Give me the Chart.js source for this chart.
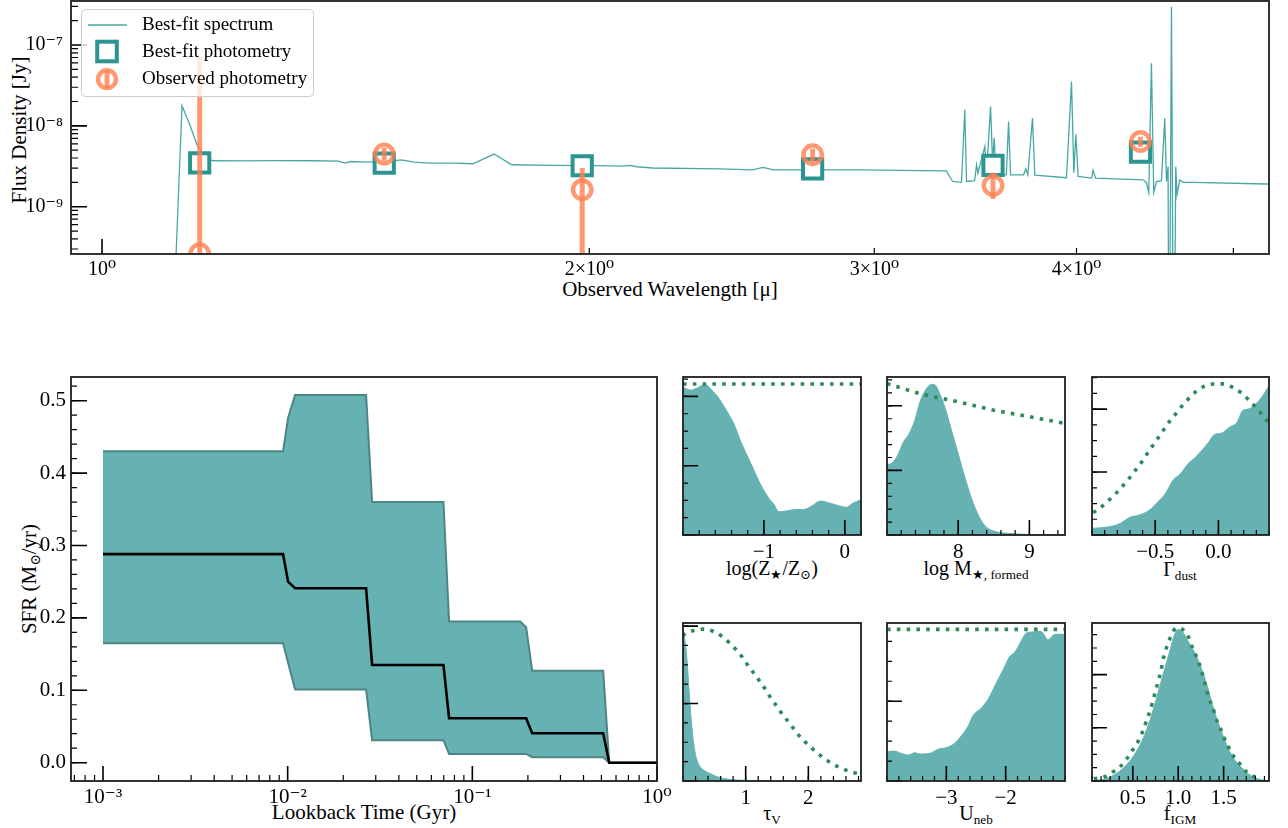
<!DOCTYPE html>
<html>
<head>
<meta charset="utf-8">
<script src="https://cdn.jsdelivr.net/npm/chart.js"></script>
<style>
  html, body { margin: 0; padding: 0; background: #fff; }
  #fig { position: relative; width: 1288px; height: 828px; overflow: hidden;
         font-family: 'Liberation Serif', 'DejaVu Serif', serif; color: #000; }
  #fig canvas { position: absolute; }
  .lbl { position: absolute; white-space: nowrap; transform: translate(-50%, -50%);
         font-size: 21px; line-height: 1; }
  .lbl.rot { transform: translate(-50%, -50%) rotate(-90deg); }
  .lbl.sm { font-size: 20px; }
  .lbl sub { font-size: 66%; vertical-align: -0.3em; line-height: 0; }
</style>
</head>
<body>
<div id="fig">
  <div class="lbl rot" style="left:19px;top:130px">Flux Density [Jy]</div>
  <div class="lbl" style="left:670px;top:289px">Observed Wavelength [μ]</div>
  <div class="lbl rot" style="left:29px;top:579px">SFR (M<sub>⊙</sub>/yr)</div>
  <div class="lbl" style="left:364px;top:812px">Lookback Time (Gyr)</div>
  <div class="lbl sm" style="left:772px;top:568px">log(Z<sub>★</sub>/Z<sub>⊙</sub>)</div>
  <div class="lbl sm" style="left:976px;top:568px">log M<sub>★, formed</sub></div>
  <div class="lbl sm" style="left:1180px;top:569px">Γ<sub>dust</sub></div>
  <div class="lbl sm" style="left:772px;top:813px">τ<sub>V</sub></div>
  <div class="lbl sm" style="left:976px;top:813px">U<sub>neb</sub></div>
  <div class="lbl sm" style="left:1180px;top:813px">f<sub>IGM</sub></div>
</div>
<script>
// ── Spectrum (μm, Jy) ──────────────────────────────────────
const specWave = [0.96, 1.108, 1.111, 1.1205, 1.133, 1.1446, 1.160, 1.171, 1.22, 1.28, 1.35, 1.40,
  1.4128, 1.425, 1.458, 1.50, 1.53, 1.56, 1.594, 1.65, 1.695, 1.7466, 1.791, 1.899, 2.02, 2.10,
  2.119, 2.14, 2.189, 2.408, 2.524, 2.560, 2.60, 2.939, 3.2937, 3.3237, 3.3536, 3.3963, 3.4123,
  3.4206, 3.4600, 3.4699, 3.4764, 3.5111, 3.5196, 3.5397, 3.5498, 3.5579, 3.5665, 3.62, 3.6315,
  3.6418, 3.71, 3.7217, 3.7323, 3.7573, 3.7696, 3.9435, 3.9717, 3.9847, 3.9961, 4.0092, 4.0863,
  4.0956, 4.1096, 4.3972, 4.4185, 4.4330, 4.4500, 4.4646, 4.4818, 4.5138, 4.5350, 4.5460, 4.5564,
  4.5629, 4.5785, 4.5935, 4.6065, 4.6151, 4.6328, 4.6546, 4.7213, 5.2409, 5.30];
const specFlux = [1e-12, 1e-12, 2.5e-10, 1.77e-8, 1.03e-8, 5.8e-9, 4.0e-9, 3.70e-9, 3.68e-9, 3.72e-9, 3.70e-9, 3.66e-9,
  3.46e-9, 3.62e-9, 3.56e-9, 3.62e-9, 3.80e-9, 3.55e-9, 3.46e-9, 3.45e-9, 3.40e-9, 4.48e-9, 3.30e-9, 3.24e-9, 3.22e-9, 3.17e-9,
  3.25e-9, 3.12e-9, 3.01e-9, 2.94e-9, 2.86e-9, 3.06e-9, 2.86e-9, 2.86e-9, 2.78e-9, 2.78e-9, 2.05e-9, 2.0e-9, 1.58e-8,
  2.05e-9, 2.1e-9, 3.30e-9, 2.61e-9, 5.55e-9, 2.61e-9, 1.73e-8, 3.46e-9, 7.11e-9, 2.55e-9, 2.48e-9, 1.13e-8,
  2.48e-9, 2.48e-9, 2.94e-9, 2.48e-9, 1.245e-8, 2.45e-9, 2.28e-9, 3.52e-8, 2.61e-9, 7.89e-9, 2.37e-9, 2.26e-9,
  2.81e-9, 2.26e-9, 2.15e-9, 2.0e-9, 1.50e-9, 5.94e-8, 1.50e-9, 2.05e-9, 2.1e-9, 1.245e-8, 2.05e-9, 3.14e-9,
  1e-12, 2.97e-7, 1e-12, 3.14e-9, 1.41e-9, 2.15e-9, 2.0e-9, 2.0e-9, 1.91e-9, 1.90e-9];

// ── Photometry ─────────────────────────────────────────────
const photWave = [1.149, 1.494, 1.980, 2.748, 3.552, 4.381];
const bestPhot = [3.49e-9, 3.46e-9, 3.21e-9, 2.94e-9, 3.24e-9, 4.73e-9];
const obsPhot  = [2.62e-10, 4.48e-9, 1.62e-9, 4.39e-9, 1.83e-9, 6.40e-9];
const obsHi    = [7.05e-8, 5.35e-9, 3.0e-9, 5.2e-9, 2.63e-9, 7.31e-9];
const obsLo    = [1e-13, 3.70e-9, 1e-13, 3.6e-9, 1.245e-9, 5.5e-9];

// ── Star formation history (Gyr, M☉/yr) ────────────────────
const sfrTime   = [0.001, 0.00944, 0.01005, 0.01097, 0.02659, 0.02866, 0.06976, 0.07484, 0.1815, 0.1956, 0.2109, 0.5112, 0.5510, 1.0];
const sfrUpper  = [0.430, 0.430, 0.476, 0.508, 0.508, 0.360, 0.360, 0.195, 0.195, 0.187, 0.127, 0.127, 0.0, 0.0];
const sfrLower  = [0.165, 0.165, 0.138, 0.101, 0.101, 0.031, 0.031, 0.012, 0.012, 0.012, 0.0075, 0.0075, 0.0, 0.0];
const sfrMedian = [0.288, 0.288, 0.250, 0.241, 0.241, 0.135, 0.135, 0.0613, 0.0613, 0.0613, 0.0406, 0.0406, 0.0, 0.0];

// ── Posteriors / priors (density, arbitrary units) ─────────
const metX     = [-2.0, -1.90, -1.81, -1.73, -1.62, -1.58, -1.485, -1.37, -1.276, -1.16, -1.067, -0.951, -0.881, -0.812, -0.742, -0.603, -0.510, -0.394, -0.301, -0.185, -0.069, 0.024, 0.093, 0.2];
const metPost  = [2.13, 2.09, 2.13, 2.17, 2.06, 2.01, 1.84, 1.60, 1.32, 1.03, 0.79, 0.55, 0.45, 0.335, 0.344, 0.368, 0.368, 0.43, 0.49, 0.46, 0.42, 0.40, 0.455, 0.51];
const metPriorX = [-2.0, 0.2];
const metPrior  = [2.18, 2.18];

const massX     = [7.0, 7.069, 7.149, 7.229, 7.309, 7.388, 7.468, 7.548, 7.628, 7.681, 7.734, 7.814, 7.894, 8.0, 8.106, 8.213, 8.319, 8.399, 8.532, 8.691, 8.957, 9.17, 9.5];
const massPost  = [1.092, 1.113, 1.231, 1.436, 1.564, 1.769, 2.077, 2.256, 2.333, 2.318, 2.205, 1.974, 1.667, 1.256, 0.846, 0.487, 0.231, 0.118, 0.051, 0.026, 0.01, 0, 0];
const massPriorX = [7.0, 7.5, 8.0, 8.5, 9.0, 9.5];
const massPrior  = [2.344, 2.179, 2.062, 1.933, 1.831, 1.728];

const dustX     = [-1.0, -0.926, -0.836, -0.777, -0.702, -0.628, -0.553, -0.479, -0.419, -0.360, -0.300, -0.240, -0.181, -0.121, -0.077, -0.032, 0.028, 0.087, 0.147, 0.191, 0.236, 0.281, 0.340, 0.4];
const dustPost  = [0.105, 0.116, 0.142, 0.184, 0.279, 0.316, 0.384, 0.526, 0.658, 0.868, 0.974, 1.132, 1.237, 1.368, 1.474, 1.595, 1.621, 1.711, 1.789, 1.974, 2.0, 2.053, 2.184, 2.368];
const dustPriorX = [-0.991, -0.926, -0.866, -0.812, -0.759, -0.708, -0.657, -0.613, -0.568, -0.523, -0.479, -0.434, -0.389, -0.339, -0.291, -0.240, -0.181, -0.112, -0.032, 0.043, 0.117, 0.183, 0.242, 0.296, 0.349, 0.4];
const dustPrior  = [0.353, 0.447, 0.553, 0.658, 0.774, 0.895, 1.026, 1.142, 1.279, 1.411, 1.537, 1.668, 1.8, 1.921, 2.042, 2.158, 2.274, 2.363, 2.4, 2.4, 2.342, 2.253, 2.142, 2.026, 1.905, 1.774];

const tauX      = [0, 0.03, 0.06, 0.09, 0.12, 0.16, 0.2, 0.26, 0.33, 0.42, 0.55, 0.75, 1.0, 1.5, 2.84];
const tauPost   = [1.92, 1.82, 1.6, 1.25, 0.9, 0.55, 0.34, 0.2, 0.14, 0.1, 0.055, 0.02, 0.008, 0, 0];
const tauPriorX = [0, 0.018, 0.174, 0.324, 0.485, 0.623, 0.743, 0.857, 0.953, 1.043, 1.144, 1.234, 1.324, 1.408, 1.504, 1.594, 1.696, 1.791, 1.893, 2.013, 2.133, 2.253, 2.391, 2.535, 2.678, 2.84];
const tauPrior  = [1.87, 1.893, 1.944, 1.961, 1.931, 1.867, 1.781, 1.687, 1.592, 1.485, 1.378, 1.275, 1.172, 1.06, 0.957, 0.850, 0.751, 0.648, 0.549, 0.455, 0.369, 0.292, 0.219, 0.163, 0.120, 0.085];

const nebX      = [-4, -3.885, -3.757, -3.643, -3.534, -3.438, -3.279, -3.151, -2.991, -2.864, -2.736, -2.640, -2.545, -2.417, -2.289, -2.162, -2.034, -1.938, -1.843, -1.747, -1.651, -1.555, -1.409, -1.281, -1.172, -1.0];
const nebPost   = [0.367, 0.375, 0.346, 0.325, 0.354, 0.338, 0.346, 0.396, 0.421, 0.471, 0.575, 0.679, 0.825, 0.908, 1.033, 1.221, 1.408, 1.554, 1.617, 1.742, 1.854, 1.867, 1.875, 1.771, 1.838, 1.838];
const nebPriorX = [-4, -1];
const nebPrior  = [1.90, 1.90];

const igmX      = [0.05, 0.2, 0.3, 0.4, 0.5, 0.6, 0.7, 0.8, 0.9, 0.96, 1.0, 1.05, 1.1, 1.2, 1.3, 1.4, 1.5, 1.6, 1.7, 1.8, 1.9, 2.0];
const igmPost   = [0, 0.04, 0.12, 0.25, 0.45, 0.75, 1.2, 1.8, 2.4, 2.75, 2.85, 2.8, 2.65, 2.35, 1.9, 1.3, 0.82, 0.45, 0.25, 0.1, 0.03, 0];
const igmPriorX = [0.07, 0.19, 0.27, 0.36, 0.43, 0.5, 0.56, 0.61, 0.65, 0.69, 0.72, 0.75, 0.78, 0.81, 0.83, 0.86, 0.9, 0.94, 0.98, 1.07, 1.12, 1.16, 1.21, 1.25, 1.28, 1.31, 1.34, 1.38, 1.41, 1.46, 1.5, 1.55, 1.6, 1.67, 1.73, 1.8, 1.9];
const igmPrior  = [0.04, 0.08, 0.16, 0.27, 0.41, 0.59, 0.75, 0.94, 1.13, 1.32, 1.50, 1.69, 1.88, 2.07, 2.26, 2.45, 2.64, 2.80, 2.88, 2.82, 2.68, 2.49, 2.30, 2.11, 1.92, 1.73, 1.54, 1.39, 1.20, 1.01, 0.83, 0.65, 0.49, 0.34, 0.21, 0.11, 0.05];

// ── Tick labels ────────────────────────────────────────────
const specXTicks  = [1, 2, 3, 4];
const specXLabels = ['10⁰', '2×10⁰', '3×10⁰', '4×10⁰'];
const specYTicks  = [1e-9, 1e-8, 1e-7];
const specYLabels = ['10⁻⁹', '10⁻⁸', '10⁻⁷'];
const sfrXTicks   = [1e-3, 1e-2, 1e-1, 1];
const sfrXLabels  = ['10⁻³', '10⁻²', '10⁻¹', '10⁰'];
const sfrYTicks   = [0, 0.1, 0.2, 0.3, 0.4, 0.5];
const sfrYLabels  = ['0.0', '0.1', '0.2', '0.3', '0.4', '0.5'];

// ── Style ──────────────────────────────────────────────────
const TEAL  = '#2b9691';
const SPEC  = '#48a7a4';
const FILL  = '#66b2b2';
const EDGE  = '#4e8584';
const CORAL = 'rgba(255,127,80,0.8)';
const PRIOR = '#2e8b57';
const FONT  = "'Liberation Serif', 'DejaVu Serif', serif";

Chart.defaults.font.family = FONT;
Chart.defaults.color = '#000';

// ── Helpers ────────────────────────────────────────────────
const $   = id => document.getElementById(id);
const pts = (xs, ys) => xs.map((x, i) => ({ x, y: ys[i] }));
const steps = (a, b, s) => {
    const out = [];
    for (let v = a; v <= b + 1e-9; v += s) out.push(+v.toFixed(6));
    return out;
};
const logMinor = (lo, hi) => {
    const out = [];
    for (let k = Math.floor(Math.log10(lo)); k <= Math.ceil(Math.log10(hi)); k++)
        for (let m = 2; m <= 9; m++) {
            const v = m * Math.pow(10, k);
            if (v >= lo && v <= hi) out.push(v);
        }
    return out;
};

function axis(type, min, max, values, labels, size, pad) {
    return {
        type, min, max,
        grid:   { display: false, drawTicks: false },
        border: { display: false },
        afterBuildTicks: s => { s.ticks = values.map(v => ({ value: v })); },
        ticks: {
            display: labels.length > 0, autoSkip: false, maxRotation: 0, minRotation: 0,
            padding: pad, font: { size }, color: '#000',
            callback: (v, i) => labels[i] ?? '',
        },
    };
}

// ── Inward ticks + frame ───────────────────────────────────
const frameTicks = {
    id: 'frameTicks',
    afterDraw(chart, _a, o) {
        const { ctx, chartArea: a, scales } = chart;
        if (!o || !o.xMajor) return;
        const xs = scales.x, ys = scales.y;
        ctx.save();
        ctx.strokeStyle = '#000';
        const tickX = (vals, len, lw) => {
            ctx.lineWidth = lw; ctx.beginPath();
            vals.forEach(v => {
                const p = xs.getPixelForValue(v);
                if (p < a.left - 0.5 || p > a.right + 0.5) return;
                ctx.moveTo(p, a.bottom); ctx.lineTo(p, a.bottom - len);
            });
            ctx.stroke();
        };
        const tickY = (vals, len, lw) => {
            ctx.lineWidth = lw; ctx.beginPath();
            vals.forEach(v => {
                const p = ys.getPixelForValue(v);
                if (p < a.top - 0.5 || p > a.bottom + 0.5) return;
                ctx.moveTo(a.left, p); ctx.lineTo(a.left + len, p);
            });
            ctx.stroke();
        };
        tickX(o.xMinor, o.xLen[1], 1.2);
        tickX(o.xMajor, o.xLen[0], 1.6);
        tickY(o.yMinor, o.yLen[1], 1.2);
        tickY(o.yMajor, o.yLen[0], 1.6);
        ctx.lineWidth = 1.8;
        ctx.strokeStyle = '#1e1e1e';
        ctx.strokeRect(a.left, a.top, a.right - a.left, a.bottom - a.top);
        ctx.restore();
    },
};
Chart.register(frameTicks);

// ── Legend (spectrum panel), page coords relative to frame top y=1 ──
const legendBox = {
    id: 'legendBox',
    afterDraw(chart) {
        const ctx = chart.ctx;
        ctx.save();
        ctx.translate(0, chart.chartArea.top - 1);
        ctx.beginPath();
        ctx.roundRect(81.5, 9.5, 232, 87, 4);
        ctx.fillStyle = 'rgba(255,255,255,0.8)';
        ctx.fill();
        ctx.strokeStyle = '#cccccc';
        ctx.lineWidth = 1;
        ctx.stroke();

        ctx.strokeStyle = SPEC; ctx.lineWidth = 1.3;
        ctx.beginPath(); ctx.moveTo(88, 25); ctx.lineTo(127, 25); ctx.stroke();

        ctx.strokeStyle = TEAL; ctx.lineWidth = 4;
        ctx.strokeRect(97.2, 41.7, 19.6, 19.6);

        ctx.strokeStyle = CORAL; ctx.lineWidth = 5;
        ctx.beginPath(); ctx.moveTo(107, 70); ctx.lineTo(107, 88.5); ctx.stroke();
        ctx.lineWidth = 4.5;
        ctx.beginPath(); ctx.arc(107, 79.2, 8.9, 0, Math.PI * 2); ctx.stroke();

        ctx.fillStyle = '#000';
        ctx.font = `19px ${FONT}`;
        ctx.textBaseline = 'middle';
        ctx.fillText('Best-fit spectrum', 142, 25);
        ctx.fillText('Best-fit photometry', 142, 52);
        ctx.fillText('Observed photometry', 142, 79);
        ctx.restore();
    },
};

// ── Panel factory: frame = exact plot box in page pixels ───
function panel(frame, m, config) {
    const cv = document.createElement('canvas');
    const w = frame.w + m.l + m.r, h = frame.h + m.t + m.b;
    cv.width = w; cv.height = h;
    Object.assign(cv.style, { left: (frame.x - m.l) + 'px', top: (frame.y - m.t) + 'px', width: w + 'px', height: h + 'px' });
    $('fig').appendChild(cv);
    const sx = config.options.scales.x, sy = config.options.scales.y;
    sx.afterFit = s => { s.height = m.b; s.paddingLeft = 0; s.paddingRight = 0; };
    sy.afterFit = s => { s.width = m.l; s.paddingTop = 0; s.paddingBottom = 0; };
    Object.assign(config.options, {
        responsive: false, devicePixelRatio: 1, animation: false,
        layout: { padding: { left: 0, top: m.t, right: m.r, bottom: 0 } },
    });
    config.options.plugins = Object.assign({ legend: { display: false }, tooltip: { enabled: false } }, config.options.plugins);
    return new Chart(cv, config);
}

// ── Spectrum + photometry ──────────────────────────────────
const errPts = [];
photWave.forEach((w, i) => errPts.push({ x: w, y: obsLo[i] }, { x: w, y: obsHi[i] }, { x: w, y: null }));

panel({ x: 71, y: 1, w: 1198, h: 253 }, { l: 71, t: 31, r: 19, b: 36 }, {
    type: 'line',
    data: { datasets: [
        { data: pts(specWave, specFlux), borderColor: SPEC, borderWidth: 1.3, pointRadius: 0, clip: 0, order: 4 },
        { data: pts(photWave, bestPhot), showLine: false, pointStyle: 'rect', pointRadius: 13.6, pointBorderWidth: 4,
          pointBorderColor: TEAL, pointBackgroundColor: '#fff', clip: 0, order: 3 },
        { data: errPts, borderColor: CORAL, borderWidth: 5, pointRadius: 0, spanGaps: false, clip: 0, order: 2 },
        { data: pts(photWave, obsPhot), showLine: false, pointStyle: 'circle', pointRadius: 9.2, pointBorderWidth: 4.5,
          pointBorderColor: CORAL, pointBackgroundColor: 'rgba(0,0,0,0)', clip: 0, order: 1 },
    ] },
    options: {
        scales: {
            x: axis('logarithmic', 0.9568, 5.26, specXTicks, specXLabels, 20, 4),
            y: axis('logarithmic', 2.60e-10, 3.50e-7, specYTicks, specYLabels, 20, 8),
        },
        plugins: { frameTicks: {
            xMajor: [1], xMinor: [2, 3, 4, 5], xLen: [15, 6],
            yMajor: specYTicks, yMinor: logMinor(2.6e-10, 3.5e-7), yLen: [16, 7],
        } },
    },
    plugins: [legendBox],
});

// ── SFH ────────────────────────────────────────────────────
panel({ x: 71, y: 377, w: 586, h: 404 }, { l: 71, t: 20, r: 25, b: 35 }, {
    type: 'line',
    data: { datasets: [
        { data: pts(sfrTime, sfrUpper), borderColor: EDGE, borderWidth: 2, backgroundColor: FILL, fill: '+1', pointRadius: 0, order: 3 },
        { data: pts(sfrTime, sfrLower), borderColor: EDGE, borderWidth: 2, fill: false, pointRadius: 0, order: 2 },
        { data: pts(sfrTime, sfrMedian), borderColor: '#000', borderWidth: 2.6, fill: false, pointRadius: 0, order: 1 },
    ] },
    options: {
        scales: {
            x: axis('logarithmic', 6.71e-4, 1, sfrXTicks, sfrXLabels, 21, 4),
            y: axis('linear', -0.0253, 0.5327, sfrYTicks, sfrYLabels, 21, 5),
        },
        plugins: { frameTicks: {
            xMajor: sfrXTicks, xMinor: logMinor(6.71e-4, 1), xLen: [15, 6],
            yMajor: sfrYTicks, yMinor: steps(0, 0.52, 0.02), yLen: [16, 6],
        } },
    },
});

// ── Posterior panels ───────────────────────────────────────
function posterior(frame, xr, xMajor, xLabels, xStep, yMax, yStep, postX, post, priorX, prior) {
    panel(frame, { l: 8, t: 6, r: 16, b: 32 }, {
        type: 'line',
        data: { datasets: [
            { data: pts(postX, post), borderColor: FILL, borderWidth: 1, backgroundColor: FILL, fill: 'origin',
              pointRadius: 0, cubicInterpolationMode: 'monotone', order: 2 },
            { data: pts(priorX, prior), borderColor: PRIOR, borderWidth: 3.6, borderDash: [3.6, 6.2], fill: false,
              pointRadius: 0, cubicInterpolationMode: 'monotone', order: 1 },
        ] },
        options: {
            scales: {
                x: axis('linear', xr[0], xr[1], xMajor, xLabels, 21, 5),
                y: axis('linear', 0, yMax, [], [], 20, 0),
            },
            plugins: { frameTicks: {
                xMajor, xMinor: steps(xr[0], xr[1], xStep), xLen: [15, 5],
                yMajor: steps(0, yMax, 1), yMinor: steps(0, yMax, yStep), yLen: [15, 5],
            } },
        },
    });
}

posterior({ x: 683,  y: 377, w: 178, h: 158 }, [-2.0, 0.2], [-1, 0], ['−1', '0'], 0.2, 2.28, 0.25, metX, metPost, metPriorX, metPrior);
posterior({ x: 887,  y: 377, w: 178, h: 158 }, [7.0, 9.5], [8, 9], ['8', '9'], 0.2, 2.446, 0.2, massX, massPost, massPriorX, massPrior);
posterior({ x: 1092, y: 377, w: 177, h: 158 }, [-1.0, 0.4], [-0.5, 0], ['−0.5', '0.0'], 0.1, 2.51, 0.25, dustX, dustPost, dustPriorX, dustPrior);
posterior({ x: 683,  y: 623, w: 178, h: 158 }, [0, 2.84], [1, 2], ['1', '2'], 0.2, 2.04, 0.25, tauX, tauPost, tauPriorX, tauPrior);
posterior({ x: 887,  y: 623, w: 178, h: 158 }, [-4, -1], [-3, -2], ['−3', '−2'], 0.2, 1.98, 0.25, nebX, nebPost, nebPriorX, nebPrior);
posterior({ x: 1092, y: 623, w: 177, h: 158 }, [0.05, 2.0], [0.5, 1.0, 1.5], ['0.5', '1.0', '1.5'], 0.1, 2.97, 0.25, igmX, igmPost, igmPriorX, igmPrior);
</script>
</body>
</html>
